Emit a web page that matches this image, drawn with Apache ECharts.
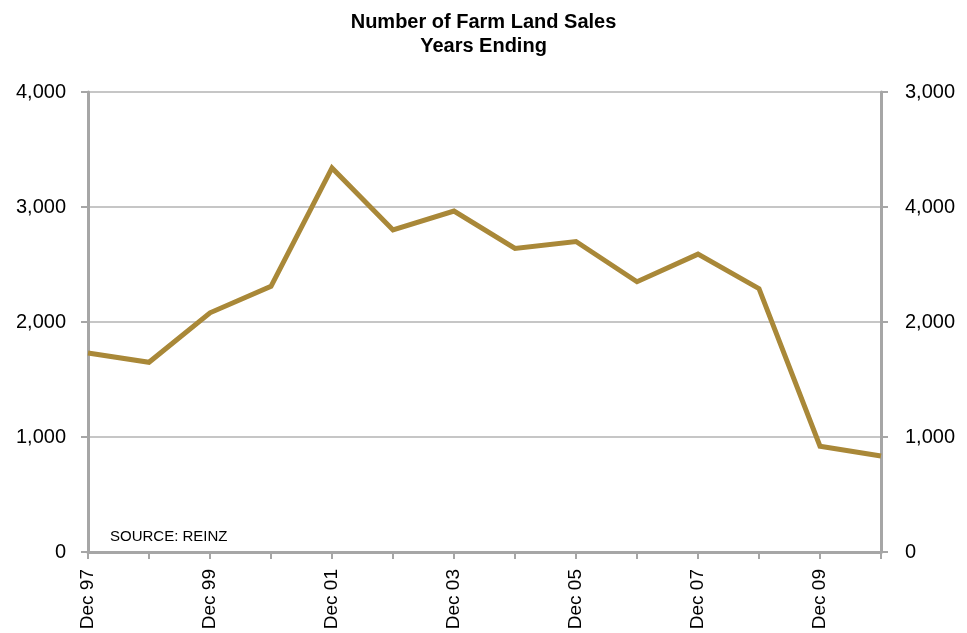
<!DOCTYPE html>
<html>
<head>
<meta charset="utf-8">
<title>Number of Farm Land Sales</title>
<script src="https://cdn.jsdelivr.net/npm/echarts@6/dist/echarts.min.js"></script>
<style>
  html, body { margin: 0; padding: 0; background: #fff; }
  #chart { width: 967px; height: 633px; }
</style>
</head>
<body>
<div id="chart"></div>
<script>
// categories (years ending December)
const years = ['Dec 97', 'Dec 98', 'Dec 99', 'Dec 00', 'Dec 01', 'Dec 02', 'Dec 03',
  'Dec 04', 'Dec 05', 'Dec 06', 'Dec 07', 'Dec 08', 'Dec 09', 'Dec 10']
// number of farm land sales
const sales = [1730, 1650, 2080, 2310, 3340, 2800, 2965, 2640, 2700, 2350, 2590, 2290, 920, 835]
// right axis labels as printed in the original (bottom to top)
const rightTickLabels = ['0', '1,000', '2,000', '4,000', '3,000']

const fontFamily = '"Liberation Sans", Arial, sans-serif'
const axisGrey = '#a6a6a6'

const chart = echarts.init(document.getElementById('chart'))

const option = {
  animation: false,
  textStyle: { fontFamily: fontFamily },
  title: {
    text: 'Number of Farm Land Sales\nYears Ending',
    left: 'center',
    top: 5,
    textStyle: {
      fontFamily: fontFamily,
      fontSize: 20,
      fontWeight: 'bold',
      color: '#000',
      lineHeight: 24
    }
  },
  grid: {
    left: 88,
    right: 86,
    top: 92,
    bottom: 81
  },
  graphic: [{
    type: 'text',
    left: 110,
    top: 529,
    style: {
      text: 'SOURCE: REINZ',
      fontFamily: fontFamily,
      fontSize: 15,
      fill: '#000'
    }
  }],
  xAxis: {
    type: 'category',
    data: years,
    boundaryGap: false,
    axisLine: { lineStyle: { color: axisGrey, width: 3 } },
    axisTick: { show: true, interval: 0, length: 7, lineStyle: { color: axisGrey, width: 2 } },
    axisLabel: {
      interval: 1,
      rotate: 90,
      margin: 17,
      fontSize: 19,
      color: '#000'
    },
    splitLine: { show: false }
  },
  yAxis: [{
    type: 'value',
    min: 0,
    max: 4000,
    interval: 1000,
    axisLine: { show: true, lineStyle: { color: axisGrey, width: 3 } },
    axisTick: { show: true, length: 7, lineStyle: { color: axisGrey, width: 2 } },
    axisLabel: {
      margin: 22,
      fontSize: 20,
      color: '#000',
      formatter: (v) => v.toLocaleString('en-US')
    },
    splitLine: { lineStyle: { color: '#b3b3b3', width: 1.5 } }
  }, {
    type: 'value',
    position: 'right',
    min: 0,
    max: 4000,
    interval: 1000,
    axisLine: { show: true, lineStyle: { color: axisGrey, width: 3 } },
    axisTick: { show: true, length: 7, lineStyle: { color: axisGrey, width: 2 } },
    axisLabel: {
      margin: 24,
      fontSize: 20,
      color: '#000',
      formatter: (v) => rightTickLabels[Math.round(v / 1000)]
    },
    splitLine: { show: false }
  }],
  series: [{
    name: 'Farm Land Sales',
    type: 'line',
    data: sales,
    yAxisIndex: 0,
    showSymbol: false,
    symbol: 'none',
    lineStyle: { color: '#a98838', width: 5, join: 'miter' },
    z: 3
  }]
}

chart.setOption(option)
</script>
</body>
</html>
